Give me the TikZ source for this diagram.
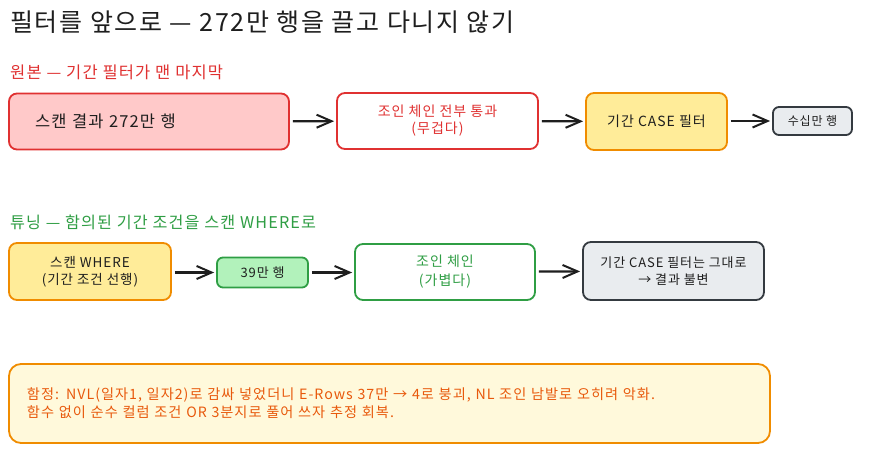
\documentclass[tikz,border=0pt]{standalone}
\usepackage{fontspec}
\setmainfont[LetterSpace=7]{Noto Sans CJK KR}
\usetikzlibrary{arrows.meta}
\definecolor{ink}{HTML}{1E1E1E}
\definecolor{redS}{HTML}{E03131}
\definecolor{redF}{HTML}{FFC9C9}
\definecolor{orgS}{HTML}{F08C00}
\definecolor{orgF}{HTML}{FFEC99}
\definecolor{grnS}{HTML}{2F9E44}
\definecolor{grnF}{HTML}{B2F2BB}
\definecolor{gryS}{HTML}{343A40}
\definecolor{gryF}{HTML}{E9ECEF}
\definecolor{noteF}{HTML}{FFF9DB}
\definecolor{noteT}{HTML}{E8590C}
\tikzset{
  box/.style={draw, line width=1.8pt, rounded corners=8pt, inner sep=0pt, align=center, text=ink},
  redbox/.style={box, draw=redS, fill=redF},
  whitered/.style={box, draw=redS, fill=white, text=redS},
  orgbox/.style={box, draw=orgS, fill=orgF},
  grnbox/.style={box, draw=grnS, fill=grnF},
  whitegrn/.style={box, draw=grnS, fill=white, text=grnS},
  grybox/.style={box, draw=gryS, fill=gryF},
  flow/.style={draw=ink, line width=2.2pt, -{Straight Barb[length=15pt,width=13pt,line width=2pt]}, shorten <=3pt, shorten >=2pt}
}
\begin{document}
\begin{tikzpicture}[x=1pt,y=-1pt]
\useasboundingbox (0,0) rectangle (884,454);
\fill[white] (0,0) rectangle (884,454);

\node[anchor=west, inner sep=0pt, text=ink, font=\fontsize{25}{29}\selectfont] (title) at (10,22) {필터를 앞으로 — 272만 행을 끌고 다니지 않기};
\node[anchor=west, inner sep=0pt, text=redS, font=\fontsize{16.5}{20}\selectfont] (sub1) at (10,72) {원본 — 기간 필터가 맨 마지막};
\node[anchor=west, inner sep=0pt, text=grnS, font=\fontsize{16.2}{20}\selectfont] (sub2) at (10,222) {튜닝 — 함의된 기간 조건을 스캔 WHERE로};

% row 1
\node[redbox, minimum width=280pt, minimum height=56pt, text width=228pt, inner xsep=26pt, align=left, font=\fontsize{16.5}{19}\selectfont] (a) at (149,121.5) {스캔 결과 272만 행};
\node[whitered, minimum width=201pt, minimum height=56pt, font=\fontsize{14}{17}\selectfont] (b) at (437.5,121) {조인 체인 전부 통과\\(무겁다)};
\node[orgbox, minimum width=141pt, minimum height=57pt, font=\fontsize{14}{17}\selectfont] (c) at (656.5,121.5) {기간 CASE 필터};
\node[grybox, minimum width=79pt, minimum height=28pt, rounded corners=6pt, font=\fontsize{12}{15}\selectfont] (d) at (812.5,121) {수십만 행};

\draw[flow] (a) -- (b);
\draw[flow] (b) -- (c);
\draw[flow] (c.east |- d.west) -- (d.west);

% row 2
\node[orgbox, minimum width=162pt, minimum height=57pt, font=\fontsize{13.5}{17}\selectfont] (e) at (90,271.5) {스캔 WHERE\\(기간 조건 선행)};
\node[grnbox, minimum width=91pt, minimum height=30pt, rounded corners=6pt, font=\fontsize{13}{16}\selectfont] (f) at (262.5,272.5) {39만 행};
\node[whitegrn, minimum width=180pt, minimum height=56pt, font=\fontsize{14}{19}\selectfont] (g) at (445,272) {조인 체인\\(가볍다)};
\node[grybox, minimum width=181pt, minimum height=58pt, font=\fontsize{13}{17}\selectfont] (h) at (673.5,271) {기간 CASE 필터는 그대로\\→ 결과 불변};

\draw[flow] (e.east |- f.west) -- (f.west);
\draw[flow] (f.east) -- (g.west |- f.east);
\draw[flow] (g) -- (h);

% note
\node[box, draw=orgS, fill=noteF, text=noteT, minimum width=761pt, minimum height=79pt, text width=725pt, inner xsep=18pt, align=left, rounded corners=12pt, font=\fontsize{14.2}{18}\selectfont] (note) at (389.5,403.5) {함정: NVL(일자1, 일자2)로 감싸 넣었더니 E-Rows 37만 → 4로 붕괴, NL 조인 남발로 오히려 악화.\\함수 없이 순수 컬럼 조건 OR 3분지로 풀어 쓰자 추정 회복.};
\end{tikzpicture}
\end{document}
